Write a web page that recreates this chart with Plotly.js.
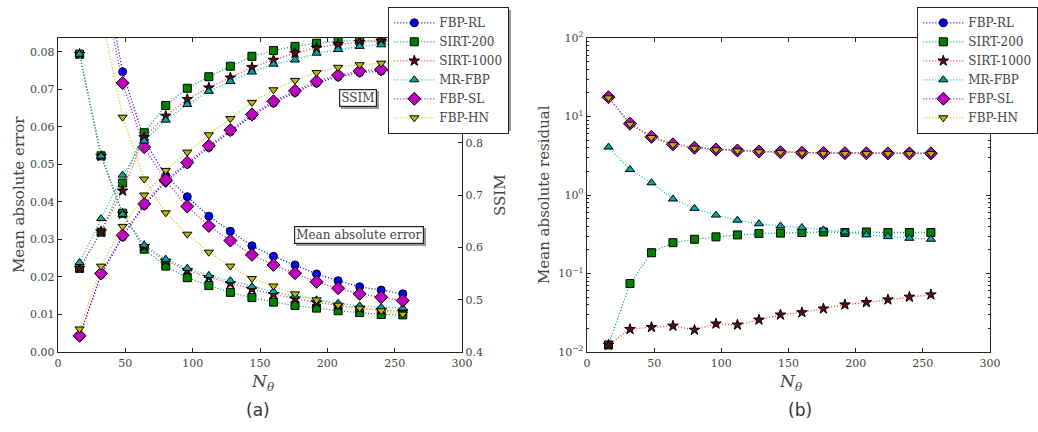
<!DOCTYPE html>
<html><head><meta charset="utf-8">
<script src="https://cdn.plot.ly/plotly-3.0.1.min.js"></script>
<style>html,body{margin:0;padding:0;background:#fff}</style>
</head><body><div id="chart" style="width:1038px;height:432px"></div>
<script>
const nTheta = [16,32,48,64,80,96,112,128,144,160,176,192,208,224,240,256];

// (a) mean absolute error
const maeFbpRl    = [0.200,0.105,0.0747,0.0565,0.0470,0.0414,0.0362,0.0322,0.0283,0.0255,0.0232,0.0208,0.0190,0.0174,0.0165,0.0155];
const maeSirt200  = [0.0794,0.0523,0.0370,0.0274,0.0229,0.0198,0.0177,0.0159,0.0145,0.0133,0.0124,0.0117,0.0110,0.0105,0.0100,0.0099];
const maeSirt1000 = [0.0794,0.0522,0.0368,0.0282,0.0243,0.0218,0.0199,0.0183,0.0168,0.0154,0.0142,0.0132,0.0124,0.0117,0.0112,0.0108];
const maeMrFbp    = [0.0794,0.0522,0.0367,0.0285,0.0247,0.0223,0.0204,0.0190,0.0174,0.0161,0.0149,0.0139,0.0130,0.0123,0.0119,0.0117];
const maeFbpSl    = [0.190,0.100,0.0717,0.0546,0.0456,0.0388,0.0336,0.0297,0.0259,0.0232,0.0210,0.0187,0.0170,0.0155,0.0146,0.0137];
const maeFbpHn    = [0.140,0.090,0.0626,0.0461,0.0371,0.0314,0.0266,0.0229,0.0196,0.0176,0.0155,0.0139,0.0125,0.0117,0.0110,0.0101];

// (a) SSIM
const ssimFbpRl    = [0.430,0.548,0.620,0.680,0.726,0.759,0.791,0.821,0.851,0.876,0.896,0.914,0.926,0.934,0.937,0.939];
const ssimSirt200  = [0.560,0.629,0.723,0.819,0.871,0.904,0.926,0.946,0.965,0.976,0.984,0.990,0.994,0.995,0.995,0.996];
const ssimSirt1000 = [0.560,0.630,0.708,0.810,0.851,0.883,0.905,0.924,0.944,0.958,0.971,0.981,0.988,0.992,0.994,0.995];
const ssimMrFbp    = [0.571,0.655,0.738,0.803,0.843,0.873,0.898,0.917,0.935,0.950,0.958,0.971,0.978,0.984,0.987,0.989];
const ssimFbpSl    = [0.431,0.550,0.623,0.683,0.729,0.762,0.794,0.824,0.854,0.879,0.899,0.917,0.929,0.937,0.940,0.942];
const ssimFbpHn    = [0.444,0.564,0.640,0.700,0.747,0.782,0.815,0.846,0.877,0.901,0.919,0.934,0.944,0.949,0.952,0.954];

// (b) mean absolute residual
const resFbpRl    = [17.5,8.1,5.5,4.42,4.00,3.81,3.70,3.59,3.52,3.47,3.44,3.42,3.41,3.40,3.40,3.40];
const resSirt200  = [0.0123,0.0745,0.184,0.247,0.273,0.293,0.310,0.323,0.327,0.333,0.338,0.333,0.338,0.333,0.333,0.333];
const resSirt1000 = [0.0123,0.0195,0.0207,0.0215,0.0191,0.0229,0.0222,0.0257,0.0298,0.0319,0.0356,0.0401,0.0429,0.0464,0.0503,0.0538];
const resMrFbp    = [4.08,2.11,1.43,0.89,0.676,0.555,0.478,0.430,0.404,0.386,0.360,0.338,0.310,0.295,0.281,0.273];
const resFbpSl    = [17.6,8.1,5.5,4.42,4.00,3.80,3.69,3.58,3.51,3.46,3.43,3.41,3.40,3.39,3.39,3.39];
const resFbpHn    = [17.3,8.0,5.4,4.38,3.96,3.77,3.66,3.56,3.49,3.44,3.41,3.39,3.38,3.37,3.37,3.37];

const methodNames = ['FBP-RL','SIRT-200','SIRT-1000','MR-FBP','FBP-SL','FBP-HN'];
const xTicks = [0,50,100,150,200,250,300];
const maeTicks = [0,0.01,0.02,0.03,0.04,0.05,0.06,0.07,0.08];
const ssimTicks = [0.4,0.5,0.6,0.7,0.8];
const resTicks = [0.01,0.1,1,10,100];
const resTickText = ['10<sup>\u22122</sup>','10<sup>\u22121</sup>','10<sup>0</sup>','10<sup>1</sup>','10<sup>2</sup>'];

const W = 1038, H = 432;
const fx = p => p / W, fy = p => 1 - p / H;
const SERIF = '"DejaVu Serif", "Liberation Serif", serif';

const styles = [
  {face:'#0000ff', line:'#0000ff', symbol:'circle', size:8},
  {face:'#008000', line:'#00a060', symbol:'square', size:8},
  {face:'#5e0a18', line:'#ff3030', symbol:'star', size:8},
  {face:'#00a8a8', line:'#00c0c0', symbol:'triangle-up', size:8},
  {face:'#c000c0', line:'#c000c0', symbol:'diamond', size:10},
  {face:'#b8b800', line:'#c8c800', symbol:'triangle-down', size:8}
];
const maeData = [maeFbpRl, maeSirt200, maeSirt1000, maeMrFbp, maeFbpSl, maeFbpHn];
const ssimData = [ssimFbpRl, ssimSirt200, ssimSirt1000, ssimMrFbp, ssimFbpSl, ssimFbpHn];
const resData = [resFbpRl, resSirt200, resSirt1000, resMrFbp, resFbpSl, resFbpHn];

function tr(i, y, xa, ya, legend, show) {
  const s = styles[i];
  return {
    type:'scatter', mode:'lines+markers', x:nTheta, y:y, xaxis:xa, yaxis:ya,
    name:methodNames[i], legend:legend, showlegend:show, hoverinfo:'skip',
    line:{color:s.line, width:1.3, dash:'1px,2px'},
    marker:{symbol:s.symbol, size:s.size, color:s.face, line:{color:'#000', width:1}}
  };
}
const traces = [];
for (let i=0;i<6;i++) traces.push(tr(i, maeData[i], 'x', 'y', 'legend', true));
for (let i=0;i<6;i++) traces.push(tr(i, ssimData[i], 'x', 'y2', 'legend', false));
for (let i=0;i<6;i++) traces.push(tr(i, resData[i], 'x2', 'y3', 'legend2', true));

const tickFont = {family:SERIF, size:11, color:'#444'};
const axBase = {showgrid:false, zeroline:false, showline:true, linecolor:'#222', linewidth:1.3,
  ticks:'inside', ticklen:4, tickcolor:'#222', tickwidth:1, tickfont:tickFont};
const yDom = [fy(352), fy(38)];

const legendBase = {bgcolor:'#fff', bordercolor:'#222', borderwidth:1.3, itemwidth:40,
  font:{family:SERIF, size:12, color:'#444'}, xanchor:'left', yanchor:'top', tracegroupgap:0};

const ann = [];
function txt(x, y, t, size, angle, extra) {
  ann.push(Object.assign({xref:'paper', yref:'paper', x:fx(x), y:fy(y), text:t, showarrow:false,
    xanchor:'center', yanchor:'middle', textangle:angle||0, font:{family:SERIF, size:size, color:'#444'}}, extra||{}));
}
txt(19, 195, 'Mean absolute error', 15, -90);
txt(500, 195, 'SSIM', 15, -90);
txt(544, 195, 'Mean absolute residual', 15, -90);
txt(262, 382, '<i>N</i><sub><i>θ</i></sub>', 17, 0);
txt(790, 382, '<i>N</i><sub><i>θ</i></sub>', 17, 0);
txt(258, 410, '(a)', 17, 0, {font:{family:'"DejaVu Sans", sans-serif', size:17, color:'#333'}});
txt(800, 410, '(b)', 17, 0, {font:{family:'"DejaVu Sans", sans-serif', size:17, color:'#333'}});
function boxed(x, y, t) {
  txt(x+2, y+2, t, 12, 0, {bgcolor:'#9a9a9a', bordercolor:'#9a9a9a', borderwidth:1.2, borderpad:1,
    font:{family:SERIF, size:12, color:'#9a9a9a'}});
  txt(x, y, t, 12, 0, {bgcolor:'#fff', bordercolor:'#222', borderwidth:1.2, borderpad:1});
}
boxed(358, 98, 'SSIM');
boxed(359, 234.5, 'Mean absolute error');

// legend drop shadows
function shadow(x0, y0, x1, y1) {
  return {type:'rect', xref:'paper', yref:'paper', x0:fx(x0+3), x1:fx(x1+3), y0:fy(y1+3), y1:fy(y0+3),
    fillcolor:'#9a9a9a', line:{width:0}, layer:'above'};
}

const layout = {
  width:W, height:H, autosize:false, margin:{l:0,r:0,t:0,b:0},
  paper_bgcolor:'#fff', plot_bgcolor:'rgba(0,0,0,0)',
  xaxis:Object.assign({}, axBase, {domain:[fx(58), fx(462)], range:[0,300], tickvals:xTicks, anchor:'y', mirror:'ticks'}),
  yaxis:Object.assign({}, axBase, {domain:yDom, range:[0,0.0837], tickvals:maeTicks, tickformat:'.2f', anchor:'x'}),
  yaxis2:Object.assign({}, axBase, {overlaying:'y', side:'right', range:[0.4,1.0], tickvals:ssimTicks, tickformat:'.1f', anchor:'x'}),
  xaxis2:Object.assign({}, axBase, {domain:[fx(587), fx(990)], range:[0,300], tickvals:xTicks, anchor:'y3', mirror:'ticks'}),
  yaxis3:Object.assign({}, axBase, {domain:yDom, type:'log', range:[-2,2], tickvals:resTicks, ticktext:resTickText, anchor:'x2', mirror:'ticks',
    minor:{ticks:'inside', ticklen:2, tickcolor:'#222', tickvals:[0.02,0.03,0.04,0.05,0.06,0.07,0.08,0.09,0.2,0.3,0.4,0.5,0.6,0.7,0.8,0.9,2,3,4,5,6,7,8,9,20,30,40,50,60,70,80,90]}}),
  legend:Object.assign({}, legendBase, {x:fx(388), y:fy(7)}),
  legend2:Object.assign({}, legendBase, {x:fx(917), y:fy(7)}),
  shapes:[shadow(388,7,508,128), shadow(917,7,1035,128)],
  annotations:ann,
  showlegend:true
};
Plotly.newPlot('chart', traces, layout, {displayModeBar:false, staticPlot:true});
</script></body></html>
